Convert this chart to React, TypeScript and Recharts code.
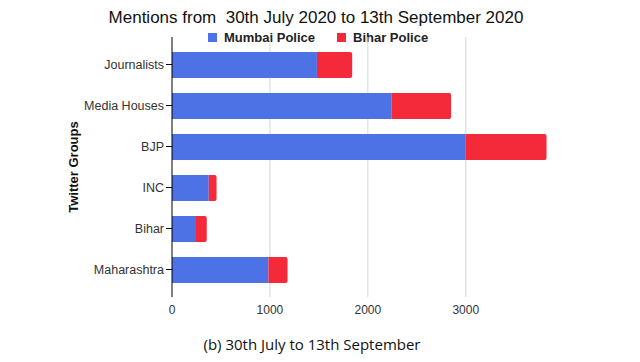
import { BarChart, Bar, XAxis, YAxis, CartesianGrid, Label } from 'recharts'

const groups = ['Journalists', 'Media Houses', 'BJP', 'INC', 'Bihar', 'Maharashtra']
const mumbaiPolice = [1480, 2240, 3000, 375, 245, 985]
const biharPolice = [360, 610, 825, 80, 110, 195]
const xTicks = [0, 1000, 2000, 3000]
const gridValues = [1000, 2000, 3000]

const BLUE = '#4c72e6'
const RED = '#f42a3a'
const SANS = '"Liberation Sans", Arial, sans-serif'

const data = groups.map((g, i) => ({ group: g, mumbai: mumbaiPolice[i], bihar: biharPolice[i] }))

function LegendRow() {
  const item = (color: string, text: string) => (
    <span style={{ display: 'inline-flex', alignItems: 'center', marginRight: 22 }}>
      <span style={{ width: 9, height: 9, background: color, marginRight: 7, display: 'inline-block' }} />
      {text}
    </span>
  )
  return (
    <div style={{ position: 'absolute', left: 208, top: 30, fontFamily: SANS, fontWeight: 'bold', fontSize: 13, color: '#222', whiteSpace: 'nowrap' }}>
      {item(BLUE, 'Mumbai Police')}
      {item(RED, 'Bihar Police')}
    </div>
  )
}

export default function App() {
  return (
    <div style={{ position: 'absolute', left: 0, top: 0, width: 640, height: 362, background: '#fff' }}>
      <div style={{ position: 'absolute', top: 8, left: 0, width: 632, textAlign: 'center', fontFamily: SANS, fontSize: 17, color: '#111', whiteSpace: 'pre' }}>
        {'Mentions from  30th July 2020 to 13th September 2020'}
      </div>
      <LegendRow />
      <BarChart
        width={640}
        height={362}
        data={data}
        layout="vertical"
        margin={{ top: 37, right: 91, left: 0, bottom: 45 }}
        barSize={26}
      >
        <CartesianGrid horizontal={false} stroke="#d6d6d6" verticalValues={gridValues} />
        <XAxis
          type="number"
          domain={[0, 3850]}
          ticks={xTicks}
          axisLine={false}
          tickLine={false}
          height={20}
          tick={{ fill: '#333', fontSize: 12, fontFamily: SANS }}
        />
        <YAxis
          type="category"
          dataKey="group"
          width={172}
          padding={{ top: 7, bottom: 7 }}
          axisLine={{ stroke: '#000' }}
          tickLine={{ stroke: '#000' }}
          tickSize={6}
          tick={{ fill: '#333', fontSize: 12.5, fontFamily: SANS }}
        >
          <Label
            value="Twitter Groups"
            angle={-90}
            position="insideLeft"
            offset={73}
            textAnchor="middle"
            style={{ fontFamily: SANS, fontWeight: 'bold', fontSize: 13, fill: '#111', textAnchor: 'middle' }}
          />
        </YAxis>
        <Bar dataKey="mumbai" stackId="a" fill={BLUE} isAnimationActive={false} />
        <Bar dataKey="bihar" stackId="a" fill={RED} radius={[0, 2, 2, 0]} isAnimationActive={false} />
      </BarChart>
      <div style={{ position: 'absolute', top: 334, left: 0, width: 624, textAlign: 'center', fontFamily: '"Open Sans", sans-serif', fontSize: 15, color: '#111' }}>
        (b) 30th July to 13th September
      </div>
    </div>
  )
}
